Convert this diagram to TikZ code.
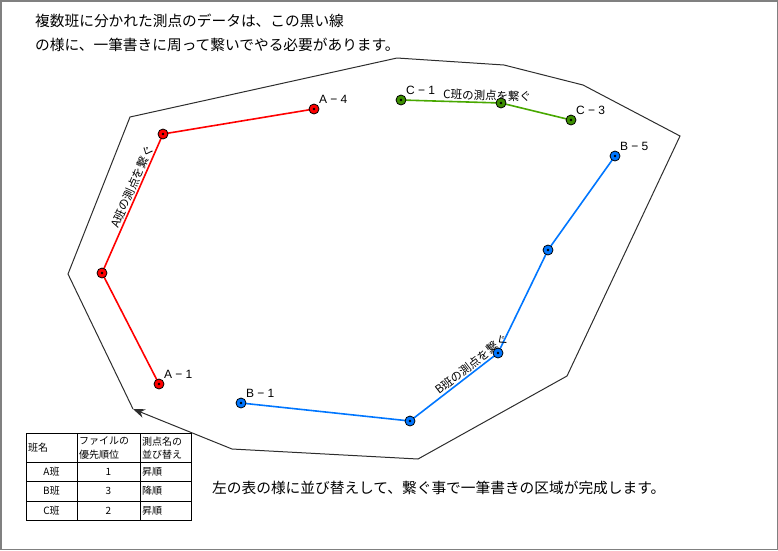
\documentclass[tikz,border=0pt]{standalone}
\usepackage{fontspec}
\setmainfont{Noto Sans CJK JP}
\newfontfamily\latinfont{Liberation Sans}
\usetikzlibrary{arrows.meta}

\definecolor{hanA}{RGB}{255,0,0}
\definecolor{hanB}{RGB}{0,118,255}
\definecolor{hanC}{RGB}{72,168,0}
\definecolor{waku}{RGB}{128,128,128}
\definecolor{sen}{RGB}{45,45,45}

\tikzset{
    han/.style={line width=1.6pt},
    ten/.style={circle, draw=black, line width=0.8pt, minimum size=10pt, inner sep=0pt,
        path picture={\fill[black] (path picture bounding box.center) circle (1.3pt);}},
    tenmei/.style={anchor=south west, inner sep=1pt, font=\latinfont\fontsize{12}{13}\selectfont},
    setsumei/.style={midway, above, sloped, inner sep=1pt, font=\fontsize{11.5}{13}\selectfont},
    hyou/.style={line width=0.6pt},
    cell/.style={inner sep=1pt, font=\fontsize{10}{13.5}\selectfont}
}

\begin{document}
\begin{tikzpicture}[x=1pt,y=-1pt]
        \useasboundingbox (0,0) rectangle (778,550);
        \draw[waku, line width=1.5pt] (0.75,0.75) rectangle (777.25,549.25);

        % 説明文
        \node[anchor=base west, inner sep=0pt, font=\fontsize{14.7}{16}\selectfont] (setsumei1)
              at (35,26) {複数班に分かれた測点のデータは、この黒い線};
        \node[anchor=base west, inner sep=0pt, font=\fontsize{14.7}{16}\selectfont] (setsumei2)
              at (35,50) {の様に、一筆書きに周って繋いでやる必要があります。};
        \node[anchor=base west, inner sep=0pt, font=\fontsize{14.7}{16}\selectfont] (setsumei3)
              at (212,493) {左の表の様に並び替えして、繋ぐ事で一筆書きの区域が完成します。};

        % 一筆書きの黒い線
        \coordinate (P0) at (133,409);
        \coordinate (P1) at (68,274);
        \coordinate (P2) at (130,117);
        \coordinate (P3) at (397,58);
        \coordinate (P4) at (504,65);
        \coordinate (P5) at (583,85);
        \coordinate (P6) at (680,136);
        \coordinate (P7) at (567,376);
        \coordinate (P8) at (418,459);
        \coordinate (P9) at (232,449);
        \draw[sen, line width=1pt, -{Stealth[length=12pt,width=9pt]}]
            (P0) -- (P1) -- (P2) -- (P3) -- (P4) -- (P5) -- (P6) -- (P7) -- (P8) -- (P9) -- (P0);

        % A班
        \coordinate (A1) at (159,384);
        \coordinate (A2) at (102,273);
        \coordinate (A3) at (163,134);
        \coordinate (A4) at (314,109);
        \draw[han, hanA] (A1) -- (A2)
            -- node[setsumei, pos=0.6, black] (sA) {A班の測点を繋ぐ} (A3) -- (A4);

        % B班
        \coordinate (B1) at (241,403);
        \coordinate (B2) at (410,421);
        \coordinate (B3) at (498,353);
        \coordinate (B4) at (548,250);
        \coordinate (B5) at (615,156);
        \draw[han, hanB] (B1) -- (B2)
            -- node[setsumei, pos=0.75, black] (sB) {B班の測点を繋ぐ} (B3) -- (B4) -- (B5);

        % C班
        \coordinate (C1) at (401,100);
        \coordinate (C2) at (501,103);
        \coordinate (C3) at (571,120);
        \draw[han, hanC] (C1)
            -- node[setsumei, pos=0.86, black] (sC) {C班の測点を繋ぐ} (C2) -- (C3);

        % 測点
        \node[ten, fill=hanA] (dA1) at (A1) {};
        \node[ten, fill=hanA] (dA2) at (A2) {};
        \node[ten, fill=hanA] (dA3) at (A3) {};
        \node[ten, fill=hanA] (dA4) at (A4) {};
        \node[ten, fill=hanB] (dB1) at (B1) {};
        \node[ten, fill=hanB] (dB2) at (B2) {};
        \node[ten, fill=hanB] (dB3) at (B3) {};
        \node[ten, fill=hanB] (dB4) at (B4) {};
        \node[ten, fill=hanB] (dB5) at (B5) {};
        \node[ten, fill=hanC!85!black] (dC1) at (C1) {};
        \node[ten, fill=hanC!85!black] (dC2) at (C2) {};
        \node[ten, fill=hanC!85!black] (dC3) at (C3) {};

        \node[tenmei] (nA1) at (dA1.north east) {A − 1};
        \node[tenmei] (nA4) at (dA4.north east) {A − 4};
        \node[tenmei] (nB1) at (dB1.north east) {B − 1};
        \node[tenmei] (nB5) at (dB5.north east) {B − 5};
        \node[tenmei] (nC1) at (dC1.north east) {C − 1};
        \node[tenmei] (nC3) at (dC3.north east) {C − 3};

        % 表
        \draw[hyou] (26,433) rectangle (191,520);
        \draw[hyou] (26,462) -- (191,462) (26,481) -- (191,481) (26,501) -- (191,501);
        \draw[hyou] (77,433) -- (77,520) (140,433) -- (140,520);

        \node[cell, anchor=west] (h1) at (27,448) {班名};
        \node[cell, anchor=west, align=left] (h2) at (78,448) {ファイルの\\優先順位};
        \node[cell, anchor=west, align=left] (h3) at (141,448) {測点名の\\並び替え};

        \node[cell] (rA1) at (51.5,471.5) {A班};
        \node[cell] (rA2) at (108.5,471.5) {1};
        \node[cell, anchor=west] (rA3) at (141,471.5) {昇順};
        \node[cell] (rB1) at (51.5,491) {B班};
        \node[cell] (rB2) at (108.5,491) {3};
        \node[cell, anchor=west] (rB3) at (141,491) {降順};
        \node[cell] (rC1) at (51.5,510.5) {C班};
        \node[cell] (rC2) at (108.5,510.5) {2};
        \node[cell, anchor=west] (rC3) at (141,510.5) {昇順};
    \end{tikzpicture}
\end{document}
